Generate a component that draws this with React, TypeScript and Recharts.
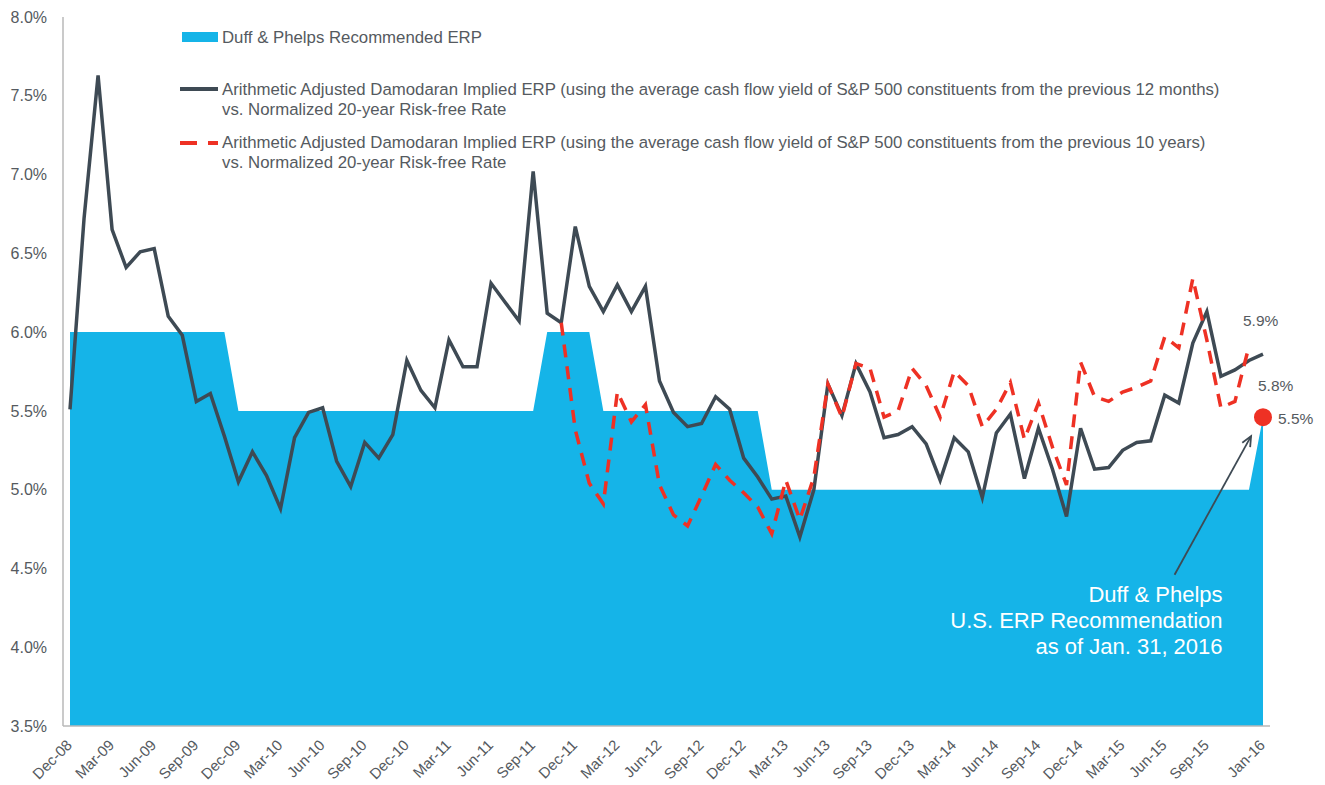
import React from "react";
import {
  Area,
  ComposedChart,
  Legend,
  Line,
  ReferenceDot,
  ReferenceLine,
  XAxis,
  YAxis,
} from "recharts";

// ---- data ----------------------------------------------------------------

const MONTHS = [
  "Dec-08",
  "Jan-09", "Feb-09", "Mar-09", "Apr-09", "May-09", "Jun-09", "Jul-09", "Aug-09", "Sep-09", "Oct-09", "Nov-09", "Dec-09",
  "Jan-10", "Feb-10", "Mar-10", "Apr-10", "May-10", "Jun-10", "Jul-10", "Aug-10", "Sep-10", "Oct-10", "Nov-10", "Dec-10",
  "Jan-11", "Feb-11", "Mar-11", "Apr-11", "May-11", "Jun-11", "Jul-11", "Aug-11", "Sep-11", "Oct-11", "Nov-11", "Dec-11",
  "Jan-12", "Feb-12", "Mar-12", "Apr-12", "May-12", "Jun-12", "Jul-12", "Aug-12", "Sep-12", "Oct-12", "Nov-12", "Dec-12",
  "Jan-13", "Feb-13", "Mar-13", "Apr-13", "May-13", "Jun-13", "Jul-13", "Aug-13", "Sep-13", "Oct-13", "Nov-13", "Dec-13",
  "Jan-14", "Feb-14", "Mar-14", "Apr-14", "May-14", "Jun-14", "Jul-14", "Aug-14", "Sep-14", "Oct-14", "Nov-14", "Dec-14",
  "Jan-15", "Feb-15", "Mar-15", "Apr-15", "May-15", "Jun-15", "Jul-15", "Aug-15", "Sep-15", "Oct-15", "Nov-15", "Dec-15",
  "Jan-16",
];

const TICK_LABELS = [
  "Dec-08", "Mar-09", "Jun-09", "Sep-09", "Dec-09", "Mar-10", "Jun-10", "Sep-10", "Dec-10",
  "Mar-11", "Jun-11", "Sep-11", "Dec-11", "Mar-12", "Jun-12", "Sep-12", "Dec-12",
  "Mar-13", "Jun-13", "Sep-13", "Dec-13", "Mar-14", "Jun-14", "Sep-14", "Dec-14",
  "Mar-15", "Jun-15", "Sep-15", "Jan-16",
];

const Y_TICKS = [3.5, 4.0, 4.5, 5.0, 5.5, 6.0, 6.5, 7.0, 7.5, 8.0];

// Duff & Phelps recommended ERP (%)
const RECOMMENDED_ERP = [
  6.0,
  6.0, 6.0, 6.0, 6.0, 6.0, 6.0, 6.0, 6.0, 6.0, 6.0, 6.0, 5.5,
  5.5, 5.5, 5.5, 5.5, 5.5, 5.5, 5.5, 5.5, 5.5, 5.5, 5.5, 5.5,
  5.5, 5.5, 5.5, 5.5, 5.5, 5.5, 5.5, 5.5, 5.5, 6.0, 6.0, 6.0,
  6.0, 5.5, 5.5, 5.5, 5.5, 5.5, 5.5, 5.5, 5.5, 5.5, 5.5, 5.5,
  5.5, 5.0, 5.0, 5.0, 5.0, 5.0, 5.0, 5.0, 5.0, 5.0, 5.0, 5.0,
  5.0, 5.0, 5.0, 5.0, 5.0, 5.0, 5.0, 5.0, 5.0, 5.0, 5.0, 5.0,
  5.0, 5.0, 5.0, 5.0, 5.0, 5.0, 5.0, 5.0, 5.0, 5.0, 5.0, 5.0,
  5.46,
];

// implied ERP, previous 12 months cash flow yield (%)
const ERP_12M = [
  5.51,
  6.72, 7.63, 6.65, 6.41, 6.51, 6.53, 6.10, 5.98, 5.56, 5.61, 5.34, 5.05,
  5.24, 5.09, 4.88, 5.33, 5.49, 5.52, 5.18, 5.02, 5.30, 5.20, 5.35, 5.82,
  5.63, 5.52, 5.95, 5.78, 5.78, 6.31, 6.19, 6.07, 7.02, 6.12, 6.06, 6.67,
  6.29, 6.13, 6.30, 6.13, 6.29, 5.69, 5.49, 5.40, 5.42, 5.59, 5.51, 5.20,
  5.08, 4.94, 4.96, 4.70, 5.00, 5.67, 5.47, 5.80, 5.62, 5.33, 5.35, 5.40,
  5.29, 5.06, 5.33, 5.24, 4.95, 5.36, 5.48, 5.07, 5.39, 5.13, 4.83, 5.39,
  5.13, 5.14, 5.25, 5.30, 5.31, 5.60, 5.55, 5.93, 6.13, 5.72, 5.76, 5.82,
  5.86,
];

// implied ERP, previous 10 years cash flow yield (%)
const ERP_10Y = [
  null,
  null, null, null, null, null, null, null, null, null, null, null, null,
  null, null, null, null, null, null, null, null, null, null, null, null,
  null, null, null, null, null, null, null, null, null, null, 6.06, 5.38,
  5.04, 4.91, 5.62, 5.43, 5.54, 5.03, 4.84, 4.77, 4.96, 5.16, 5.06, 4.98,
  4.89, 4.72, 5.06, 4.81, 5.08, 5.67, 5.46, 5.80, 5.77, 5.46, 5.50, 5.77,
  5.66, 5.46, 5.75, 5.66, 5.40, 5.51, 5.68, 5.32, 5.55, 5.27, 5.03, 5.81,
  5.59, 5.56, 5.62, 5.65, 5.69, 5.97, 5.90, 6.34, 5.95, 5.52, 5.56, 5.91,
  null,
];

// callout arrow: from the text block up to the Jan-16 recommendation
const ARROW = [
  { x: 78.7, y: 4.46 },
  { x: 84.15, y: 5.34 },
];

const ANNOTATION = ["Duff & Phelps", "U.S. ERP Recommendation", "as of Jan. 31, 2016"];

// ---- styling --------------------------------------------------------------

const BLUE = "#15B4E8";
const DARK = "#3E4A54";
const RED = "#EE3124";
const TEXT = "#555A60";
const AXIS = "#B8B8B8";
const FONT = "'Liberation Sans', Arial, Helvetica, sans-serif";

const W = 1325;
const H = 785;

const data = MONTHS.map((m, i) => ({
  idx: i,
  month: m,
  erp: RECOMMENDED_ERP[i],
  erp12m: ERP_12M[i],
  erp10y: ERP_10Y[i],
}));

const tickIdx = TICK_LABELS.map((t) => MONTHS.indexOf(t));
const last = MONTHS.length - 1;

function XTick({ x, y, payload }: any) {
  const px = x + 3;
  const py = y + 20;
  return (
    <text
      x={px}
      y={py}
      transform={`rotate(-45 ${px} ${py})`}
      textAnchor="end"
      fill={TEXT}
      fontSize={15}
      fontFamily={FONT}
    >
      {MONTHS[payload.value]}
    </text>
  );
}

function LegendBox() {
  const t = { fill: TEXT, fontSize: 16.8, fontFamily: FONT } as const;
  return (
    <svg width={W} height={180} style={{ display: "block" }}>
      <rect x={182} y={32} width={36} height={10} fill={BLUE} />
      <text x={222} y={43} {...t}>Duff &amp; Phelps Recommended ERP</text>

      <line x1={180} x2={218} y1={89} y2={89} stroke={DARK} strokeWidth={4} />
      <text x={222} y={95} {...t}>
        Arithmetic Adjusted Damodaran Implied ERP (using the average cash flow yield of S&amp;P 500 constituents from the previous 12 months)
      </text>
      <text x={222} y={115} {...t}>vs. Normalized 20-year Risk-free Rate</text>

      <line x1={180} x2={218} y1={143} y2={143} stroke={RED} strokeWidth={4} strokeDasharray="17 11" />
      <text x={222} y={148} {...t}>
        Arithmetic Adjusted Damodaran Implied ERP (using the average cash flow yield of S&amp;P 500 constituents from the previous 10 years)
      </text>
      <text x={222} y={168} {...t}>vs. Normalized 20-year Risk-free Rate</text>
    </svg>
  );
}

function ArrowShape({ x1, y1, x2, y2 }: any) {
  const ang = Math.atan2(y2 - y1, x2 - x1);
  const head = 11;
  const p1 = [x2 + head * Math.cos(ang + Math.PI - 0.42), y2 + head * Math.sin(ang + Math.PI - 0.42)];
  const p2 = [x2 + head * Math.cos(ang + Math.PI + 0.42), y2 + head * Math.sin(ang + Math.PI + 0.42)];
  return (
    <g>
      <line x1={x1} y1={y1} x2={x2} y2={y2} stroke={DARK} strokeWidth={1.8} />
      <polyline
        points={`${p1[0]},${p1[1]} ${x2},${y2} ${p2[0]},${p2[1]}`}
        fill="none"
        stroke={DARK}
        strokeWidth={1.8}
      />
      {ANNOTATION.map((line, i) => (
        <text
          key={line}
          x={x1 + 48}
          y={y1 + 27 + i * 26}
          textAnchor="end"
          fill="#FFFFFF"
          fontSize={22}
          fontFamily={FONT}
        >
          {line}
        </text>
      ))}
    </g>
  );
}

const labelShape = (text: string, dx: number, dy: number) =>
  function LabelShape({ cx, cy }: any) {
    return (
      <text x={cx + dx} y={cy + dy} fill={TEXT} fontSize={15.5} fontFamily={FONT}>
        {text}
      </text>
    );
  };

export default function App() {
  return (
    <div style={{ position: "absolute", left: 0, top: 0, background: "#fff" }}>
      <ComposedChart
        width={W}
        height={H}
        data={data}
        margin={{ top: 17, right: 55, bottom: 0, left: 0 }}
      >
        <XAxis
          type="number"
          dataKey="idx"
          domain={[0, last]}
          ticks={tickIdx}
          interval={0}
          padding={{ left: 7, right: 7 }}
          axisLine={{ stroke: AXIS, strokeWidth: 1.5 }}
          tickLine={false}
          tickSize={0}
          tickMargin={0}
          height={59}
          tick={<XTick />}
        />
        <YAxis
          type="number"
          domain={[3.5, 8]}
          ticks={Y_TICKS}
          interval={0}
          width={63}
          axisLine={{ stroke: AXIS, strokeWidth: 1.5 }}
          tickLine={false}
          tickSize={0}
          tickMargin={16}
          tick={{ fill: TEXT, fontSize: 16, fontFamily: FONT }}
          tickFormatter={(v: number) => `${v.toFixed(1)}%`}
        />
        <Legend
          layout="horizontal"
          verticalAlign="middle"
          align="center"
          wrapperStyle={{ left: 0, top: 0, width: W, height: 180 }}
          content={() => <LegendBox />}
        />
        <Area
          type="linear"
          dataKey="erp"
          name="Duff & Phelps Recommended ERP"
          stroke="none"
          fill={BLUE}
          fillOpacity={1}
          isAnimationActive={false}
        />
        <Line
          type="linear"
          dataKey="erp12m"
          stroke={DARK}
          strokeWidth={3.5}
          dot={false}
          isAnimationActive={false}
        />
        <Line
          type="linear"
          dataKey="erp10y"
          stroke={RED}
          strokeWidth={3.5}
          strokeDasharray="13 9"
          dot={false}
          isAnimationActive={false}
        />
        <ReferenceLine segment={ARROW} ifOverflow="visible" shape={ArrowShape} />
        <ReferenceDot x={last} y={RECOMMENDED_ERP[last]} r={9} fill={RED} stroke="none" />
        <ReferenceDot
          x={last}
          y={ERP_12M[last]}
          r={0}
          ifOverflow="visible"
          shape={labelShape("5.9%", -20, -28)}
        />
        <ReferenceDot
          x={last}
          y={RECOMMENDED_ERP[last]}
          r={0}
          ifOverflow="visible"
          shape={labelShape("5.8%", -5, -26)}
        />
        <ReferenceDot
          x={last}
          y={RECOMMENDED_ERP[last]}
          r={0}
          ifOverflow="visible"
          shape={labelShape("5.5%", 15, 7)}
        />
      </ComposedChart>
    </div>
  );
}
